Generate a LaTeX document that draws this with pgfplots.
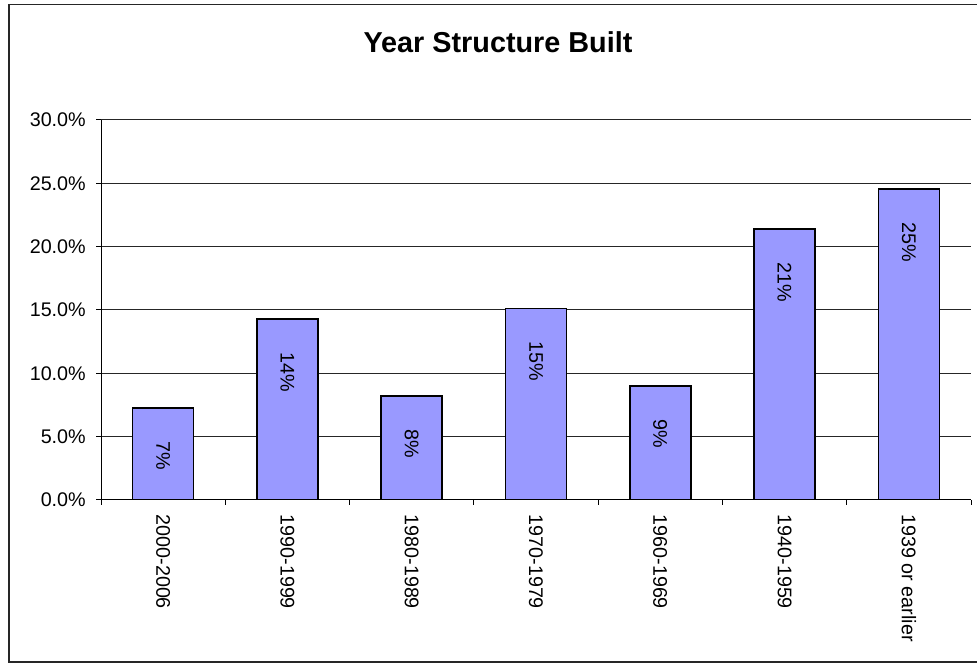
\documentclass[border=0pt]{standalone}
\usepackage{pgfplots}
\pgfplotsset{compat=1.18}
\usepackage{fontspec}
\setmainfont{Liberation Sans}
\definecolor{barblue}{HTML}{9999FF}
\begin{document}
\begin{tikzpicture}
\useasboundingbox (0,0) rectangle (732.75pt,497.25pt);
\draw[line width=1.1pt, black!85] (6.75pt,0.75pt) rectangle (745pt,494pt);
\node[anchor=base, font=\fontsize{21.6}{26}\selectfont\bfseries] at (373.5pt,457.5pt) {Year Structure Built};
\begin{axis}[
  at={(75.75pt,122.25pt)}, anchor=south west,
  scale only axis, width=652.5pt, height=285pt,
  ybar, bar width=0.49,
  xmin=-0.5, xmax=6.5, ymin=0, ymax=30,
  axis x line*=bottom, axis y line*=left,
  axis line style={-, black, line width=0.75pt},
  tick align=outside,
  major tick length=3.75pt, minor tick length=3.75pt,
  tick style={black, line width=0.75pt},
  xtick={0,...,6},
  xticklabels={2000-2006,1990-1999,1980-1989,1970-1979,1960-1969,1940-1959,1939 or earlier},
  minor xtick={-0.5,0.5,...,6.5},
  major x tick style={draw=none},
  xticklabel style={rotate=-90, anchor=west, inner sep=0pt, xshift=7pt},
  ytick={0,5,...,30},
  yticklabels={0.0\%,5.0\%,10.0\%,15.0\%,20.0\%,25.0\%,30.0\%},
  yticklabel style={inner sep=0pt, xshift=-7.5pt},
  ymajorgrids=true,
  grid style={black!85, line width=0.75pt},
  ticklabel style={font=\fontsize{14.8}{17}\selectfont},
  point meta=explicit symbolic,
  nodes near coords,
  nodes near coords style={font=\fontsize{14.8}{17}\selectfont, rotate=-90, anchor=west, inner sep=0pt, xshift=24.5pt},
]
\addplot[fill=barblue, draw=black, line width=1.2pt] coordinates {
  (0,7.26) [7\%]
  (1,14.27) [14\%]
  (2,8.23) [8\%]
  (3,15.13) [15\%]
  (4,9.0) [9\%]
  (5,21.4) [21\%]
  (6,24.53) [25\%]
};
\end{axis}
\end{tikzpicture}
\end{document}
